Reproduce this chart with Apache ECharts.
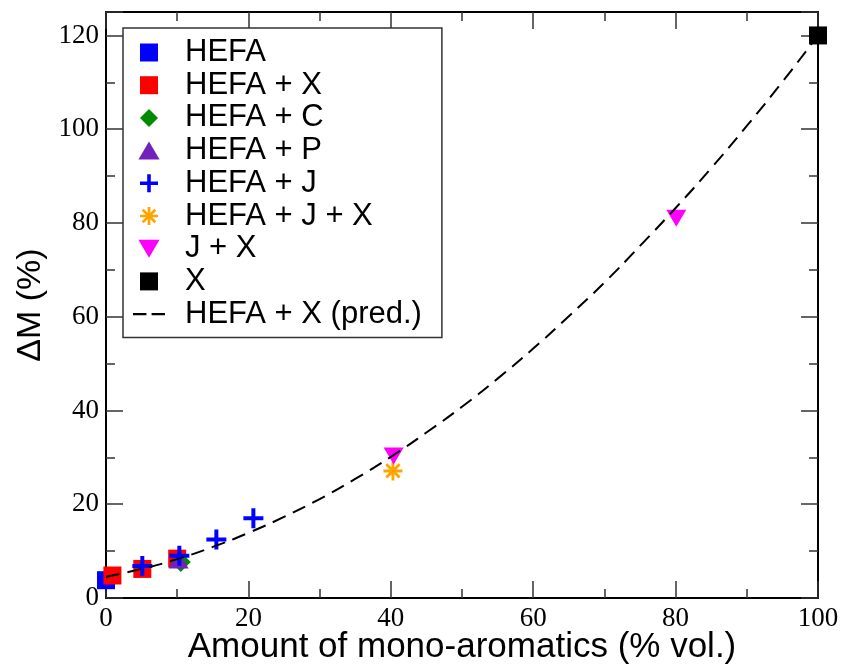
<!DOCTYPE html>
<html>
<head>
<meta charset="utf-8">
<script src="https://cdn.jsdelivr.net/npm/echarts@6/dist/echarts.min.js"></script>
<style>
html,body{margin:0;padding:0;background:#fff;}
#chart{width:844px;height:669px;}
</style>
</head>
<body>
<div id="chart"></div>
<script>
// ---- data ----
const hefa = [[0, 3.8]];
const hefaX = [[0.9, 4.8], [5.1, 6.2], [10.0, 8.4]];
const hefaC = [[10.5, 7.7]];
const hefaP = [[10.2, 8.1]];
const hefaJ = [[5.1, 6.8], [10.3, 9.0], [15.5, 12.5], [20.7, 17.0]];
const hefaJX = [[40.3, 27.1]];
const jX = [[40.4, 30.3], [80.1, 81.0]];
const xOnly = [[100, 120]];
const predX = [0, 5, 10, 15, 20, 25, 30, 35, 40, 45, 50, 55, 60, 65, 70, 75, 80, 85, 90, 95, 100];
const predY = [4.5, 6.2, 8.3, 10.9, 13.9, 17.3, 21.1, 25.4, 30.1, 35.3, 40.8, 46.8, 53.2, 60.1, 67.3, 75.1, 83.2, 91.7, 100.7, 110.1, 120];
const seriesNames = ['HEFA', 'HEFA + X', 'HEFA + C', 'HEFA + P', 'HEFA + J', 'HEFA + J + X', 'J + X', 'X', 'HEFA + X (pred.)'];

// marker shapes (paths so the legend keeps their aspect)
const squarePath = 'path://M0,0H10V10H0Z';
const diamondPath = 'path://M10,0L20,10L10,20L0,10Z';
const triUpPath = 'path://M10,0L20,17H0Z';
const triDownPath = 'path://M0,0H20L10,17Z';
const plusPath = 'path://M8,0H12V8H20V12H12V20H8V12H0V8H8Z';
const starPath = 'path://M8.5,0H11.5V20H8.5Z M0,8.5H20V11.5H0Z M4.06,1.94L18.06,15.94L15.94,18.06L1.94,4.06Z M15.94,1.94L18.06,4.06L4.06,18.06L1.94,15.94Z';
const dashIcon = 'path://M0,0H13V2H0Z M18,0H31V2H18Z';

const predData = predX.map((v, i) => [v, predY[i]]);

const tickFont = {fontFamily: 'Liberation Serif', fontSize: 27, color: '#000'};
const axisLine = {show: true, onZero: false, lineStyle: {color: '#000', width: 2}};
const axisTick = {show: true, inside: true, length: 17, lineStyle: {color: '#333', width: 1.5}};
const minorTick = {show: true, splitNumber: 2, length: 9, lineStyle: {color: '#333', width: 1.5}};

const chart = echarts.init(document.getElementById('chart'), null, {renderer: 'canvas'});
chart.setOption({
  animation: false,
  backgroundColor: '#fff',
  grid: {left: 106, right: 26, top: 12, bottom: 71, containLabel: false, outerBoundsMode: 'none'},
  xAxis: [{
    type: 'value', min: 0, max: 100, interval: 20, position: 'bottom',
    name: 'Amount of mono-aromatics (% vol.)', nameLocation: 'middle', nameGap: 32, nameMoveOverlap: false,
    nameTextStyle: {fontFamily: 'Liberation Sans', fontSize: 35, color: '#000'},
    axisLine: axisLine, axisTick: axisTick, minorTick: minorTick,
    axisLabel: Object.assign({margin: 7}, tickFont),
    splitLine: {show: false}, minorSplitLine: {show: false}
  }, {
    type: 'value', min: 0, max: 100, interval: 20, position: 'top',
    axisLine: axisLine, axisTick: axisTick, minorTick: minorTick,
    axisLabel: {show: false}, splitLine: {show: false}
  }],
  yAxis: [{
    type: 'value', min: 0, max: 125, interval: 20, position: 'left',
    name: 'ΔM (%)', nameLocation: 'middle', nameGap: 58, nameRotate: 90, nameMoveOverlap: false,
    nameTextStyle: {fontFamily: 'Liberation Sans', fontSize: 34, color: '#000'},
    axisLine: axisLine, axisTick: axisTick, minorTick: minorTick,
    axisLabel: Object.assign({margin: 7}, tickFont),
    splitLine: {show: false}
  }, {
    type: 'value', min: 0, max: 125, interval: 20, position: 'right',
    axisLine: axisLine, axisTick: axisTick, minorTick: minorTick,
    axisLabel: {show: false}, splitLine: {show: false}
  }],
  legend: {
    orient: 'vertical', left: 123, top: 28,
    data: seriesNames.map((n, i) => i === 8 ? {name: n, icon: dashIcon, itemStyle: {color: '#000'}} : {name: n}),
    itemWidth: 32, itemHeight: 18, itemGap: 1.7,
    padding: [9, 20, 8, 10],
    borderColor: '#333', borderWidth: 1.5, backgroundColor: '#fff',
    symbolKeepAspect: true,
    selectedMode: false,
    textStyle: {fontFamily: 'Liberation Sans', fontSize: 31, lineHeight: 30, color: '#000', padding: [0, 0, 0, 15]}
  },
  series: [
    {name: seriesNames[0], type: 'scatter', data: hefa, symbol: squarePath, symbolSize: 18, itemStyle: {color: '#0000ff', opacity: 1}},
    {name: seriesNames[1], type: 'scatter', data: hefaX, symbol: squarePath, symbolSize: 18, itemStyle: {color: '#ff0000', opacity: 1}},
    {name: seriesNames[2], type: 'scatter', data: hefaC, symbol: diamondPath, symbolSize: 20, itemStyle: {color: '#008b00', opacity: 1}},
    {name: seriesNames[3], type: 'scatter', data: hefaP, symbol: triUpPath, symbolSize: [20, 17], itemStyle: {color: '#7221bc', opacity: 1}},
    {name: seriesNames[4], type: 'scatter', data: hefaJ, symbol: plusPath, symbolSize: 20, itemStyle: {color: '#0000ff', opacity: 1}},
    {name: seriesNames[5], type: 'scatter', data: hefaJX, symbol: starPath, symbolSize: 19, itemStyle: {color: '#ffa500', opacity: 1}},
    {name: seriesNames[6], type: 'scatter', data: jX, symbol: triDownPath, symbolSize: [20, 17], itemStyle: {color: '#ff00ff', opacity: 1}},
    {name: seriesNames[7], type: 'scatter', data: xOnly, symbol: squarePath, symbolSize: 18, itemStyle: {color: '#000000', opacity: 1}},
    {name: seriesNames[8], type: 'line', data: predData, smooth: true, symbol: 'none', showSymbol: false,
     lineStyle: {color: '#000', width: 2, type: [14, 8]}, itemStyle: {color: '#000'}}
  ]
});
</script>
</body>
</html>
